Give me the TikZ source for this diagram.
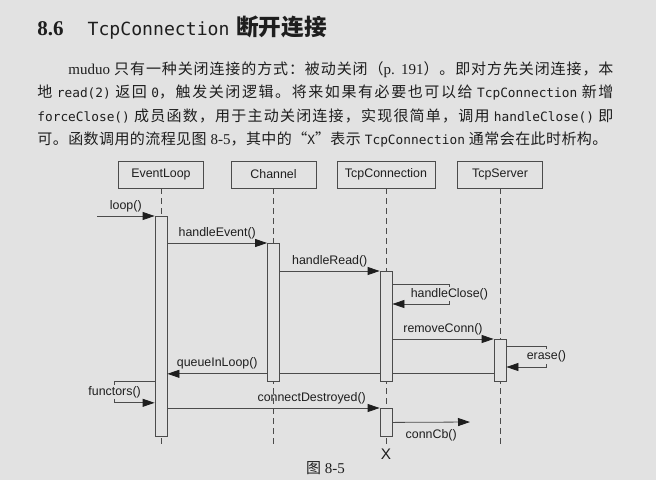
\documentclass[tikz,border=0pt]{standalone}
\usepackage{fontspec}
\setmainfont{Liberation Serif}
\setmonofont{DejaVu Sans Mono}
\newfontfamily\zh{Noto Sans CJK SC}
\newfontfamily\diagfont{Liberation Sans}
\usetikzlibrary{arrows.meta,positioning,calc}

% stretchable glue between Chinese characters, for justified lines
\XeTeXinterchartokenstate=1
\newXeTeXintercharclass\hanclass
\makeatletter
\def\sethan#1#2{\count@=#1\relax
  \loop\XeTeXcharclass\count@=\hanclass
  \ifnum\count@<#2\advance\count@ by 1\repeat}
\sethan{"4E00}{"9FFF}
\sethan{"3000}{"303F}
\sethan{"FF00}{"FFEF}
\sethan{"201C}{"201D}
\makeatother
\XeTeXinterchartoks\hanclass\hanclass={\hskip0pt plus 3pt\relax}

\definecolor{pagebg}{RGB}{226,226,226}
\definecolor{ink}{RGB}{30,30,30}
\definecolor{wire}{RGB}{75,75,75}

\newcommand{\cw}[1]{{\fontsize{9.6pt}{12pt}\selectfont\ttfamily #1}}

\tikzset{
  every picture/.style={line width=0.6pt},
  obj/.style={draw=wire, rectangle, minimum width=63.75pt, minimum height=20.25pt, inner sep=0pt, text=ink, font=\diagfont\fontsize{9.3pt}{11pt}\selectfont},
  life/.style={draw=wire, dash pattern=on 4.5pt off 3pt},
  act/.style={draw=wire, fill=pagebg, minimum width=9pt, inner sep=0pt},
  msg/.style={draw=wire, -{Triangle[length=9pt,width=6pt,color=ink]}},
  lbl/.style={text=ink, inner sep=1pt, font=\diagfont\fontsize{9.3pt}{11pt}\selectfont},
  pline/.style={anchor=base west, inner sep=0pt, text=ink, font=\fontsize{11.25pt}{14pt}\selectfont},
}

\begin{document}
\begin{tikzpicture}[x=0.75pt,y=0.75pt,yscale=-1,xscale=1]
\useasboundingbox (0,0) rectangle (656,480);
\fill[pagebg] (0,0) rectangle (656,480);

% Text Node
\node[anchor=base west, inner sep=0pt, text=ink] (title) at (37,35) {{\fontsize{15.75pt}{18pt}\selectfont\bfseries 8.6}\hspace{18pt}{\fontsize{13.6pt}{16pt}\selectfont\ttfamily TcpConnection}\hspace{5pt}{\fontsize{17pt}{18pt}\zh\bfseries 断开连接}};
% Text Node
\node[pline] (p1) at (68,74) {\makebox[408.75pt][s]{muduo {\zh 只有一种关闭连接的方式：被动关闭（}p. 191{\zh ）。即对方先关闭连接，本}}};
\node[pline] (p2) at (37,97.5) {\makebox[432pt][s]{{\zh 地} \cw{read(2)} {\zh 返回} \cw{0}{\zh ，触发关闭逻辑。将来如果有必要也可以给} \cw{TcpConnection} {\zh 新增}}};
\node[pline] (p3) at (37,121) {\makebox[432pt][s]{\cw{forceClose()} {\zh 成员函数，用于主动关闭连接，实现很简单，调用} \cw{handleClose()} {\zh 即}}};
\node[pline] (p4) at (37,144.5) {\makebox[427.5pt][s]{{\zh 可。函数调用的流程见图} 8-5{\zh ，其中的“}\cw{X}{\zh ”表示} \cw{TcpConnection} {\zh 通常会在此时析构。}}};

%Shape: Rectangle
\node[obj] (EL) at (161,174.5) {EventLoop};
\node[obj] (CH) at (273.5,174.5) {Channel};
\node[obj, minimum width=73.5pt] (TC) at (386,174.5) {TcpConnection};
\node[obj] (TS) at (500,174.5) {TcpServer};
\node[lbl, inner sep=0pt, font=\diagfont\fontsize{11.5pt}{13pt}\selectfont] (X) at (386,454) {X};

%Dashed Lines
\coordinate (bot) at (0,448);
\foreach \n in {EL,CH,TS}
  \draw[life] (\n.south) -- (\n.south |- bot);
\draw[life] (TC.south) -- (X.north);

%Shape: Rectangle
\node[act, anchor=north, minimum height=165pt] (aEL) at (161,216) {};
\node[act, anchor=north, minimum height=103.5pt] (aCH) at (273.5,243) {};
\node[act, anchor=north, minimum height=82.5pt] (aTC) at (386,271) {};
\node[act, anchor=north, minimum height=21pt] (aTC2) at (386,408) {};
\node[act, anchor=north, minimum height=31.5pt] (aTS) at (500,339) {};

%Straight Lines
\coordinate (start) at (97,216);
\draw[msg] (start) -- (aEL.north west) node[lbl, midway, above=2pt] {loop()};
\draw[msg] (aEL.east |- aCH.north) -- (aCH.north west) node[lbl, midway, above=2pt] {handleEvent()};
\draw[msg] (aCH.east |- aTC.north) -- (aTC.north west) node[lbl, midway, above=2pt] {handleRead()};
\draw[msg] ($(aTC.north east)+(0,13)$) -- ++(57,0) -- ++(0,20) node[lbl, midway, fill=pagebg] {handleClose()} -- ($(aTC.north east)+(0,33)$);
\draw[msg] (aTC.east |- aTS.north) -- (aTS.north west) node[lbl, midway, above=2pt] {removeConn()};
\draw[msg] ($(aTS.north east)+(0,7)$) -- ++(40,0) -- ++(0,21) node[lbl, midway, fill=pagebg] {erase()} -- ($(aTS.north east)+(0,28)$);
\draw[draw=wire] ($(aTS.south west)+(0,-8)$) coordinate (q) -- (q -| aTC.east);
\draw[draw=wire] (q -| aTC.west) -- (q -| aCH.east);
\draw[msg] (q -| aCH.west) -- (q -| aEL.east) node[lbl, midway, above=2pt] {queueInLoop()};
\draw[msg] ($(aEL.south west)+(0,-55)$) -- ++(-40,0) -- ++(0,21) node[lbl, midway, fill=pagebg] {functors()} -- ($(aEL.south west)+(0,-34)$);
\draw[msg] (aEL.east |- aTC2.north) -- (aTC2.north west) node[lbl, pos=0.68, above=2pt] {connectDestroyed()};
\coordinate (cb) at (470,422);
\draw[msg] (aTC2.east) -- (cb) node[lbl, midway, below=4pt] {connCb()};

% Text Node
\node[anchor=base, inner sep=0pt, text=ink, font=\fontsize{11.25pt}{14pt}\selectfont] (cap) at (325.5,473) {{\zh 图} 8-5};
\end{tikzpicture}
\end{document}
